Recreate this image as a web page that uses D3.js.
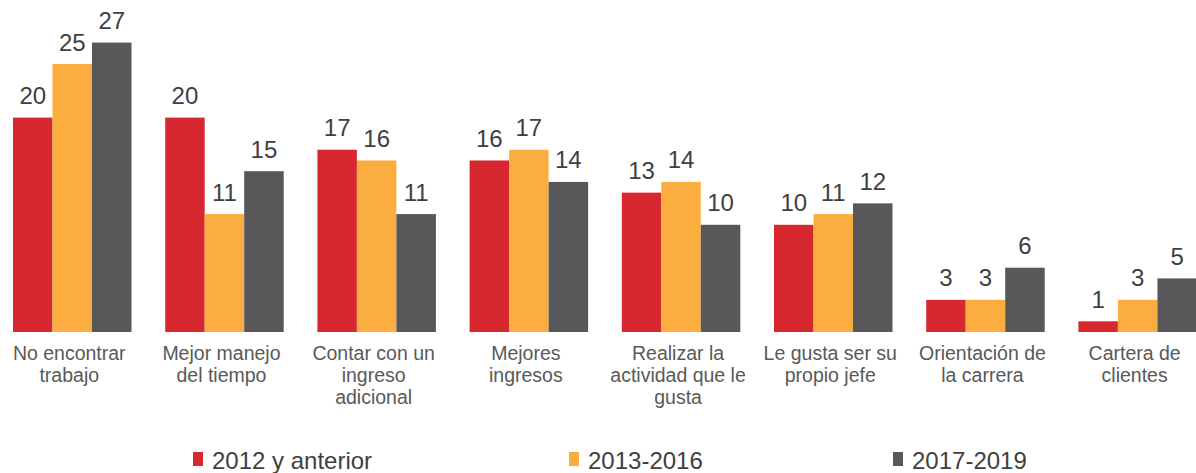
<!DOCTYPE html>
<html>
<head>
<meta charset="utf-8">
<script src="https://cdn.jsdelivr.net/npm/d3@7"></script>
<style>
  html, body { margin: 0; padding: 0; background: #ffffff; }
  svg { display: block; font-family: "Liberation Sans", Arial, Helvetica, sans-serif; }
</style>
</head>
<body>
<svg id="chart" width="1196" height="473"></svg>
<script>
// Motivos, por periodo de inicio
const categories = [
  ["No encontrar", "trabajo"],
  ["Mejor manejo", "del tiempo"],
  ["Contar con un", "ingreso", "adicional"],
  ["Mejores", "ingresos"],
  ["Realizar la", "actividad que le", "gusta"],
  ["Le gusta ser su", "propio jefe"],
  ["Orientación de", "la carrera"],
  ["Cartera de", "clientes"]
];
const seriesNames = ["2012 y anterior", "2013-2016", "2017-2019"];
const values2012 = [20, 20, 17, 16, 13, 10, 3, 1];
const values2013 = [25, 11, 16, 17, 14, 11, 3, 3];
const values2017 = [27, 15, 11, 14, 10, 12, 6, 5];
const colors = ["#d7282f", "#fbae3f", "#58585a"];

const seriesValues = [values2012, values2013, values2017];

const svg = d3.select("#chart");

const x0 = d3.scaleBand()
  .domain(d3.range(categories.length))
  .range([-3.85, 1213.75])
  .paddingInner(0.2214)
  .paddingOuter(0.1107);

const x1 = d3.scaleBand()
  .domain(d3.range(seriesNames.length))
  .range([0, x0.bandwidth()]);

const y = d3.scaleLinear()
  .domain([0, 30])
  .range([332, 10.4]);

const color = d3.scaleOrdinal().domain(d3.range(3)).range(colors);

// Bars and value labels
const groups = svg.append("g")
  .selectAll("g")
  .data(d3.range(categories.length))
  .join("g")
  .attr("transform", i => `translate(${x0(i)},0)`);

const cells = groups.selectAll("g")
  .data(i => seriesValues.map((vals, s) => ({ s, v: vals[i] })))
  .join("g");

cells.append("rect")
  .attr("x", d => x1(d.s))
  .attr("width", x1.bandwidth())
  .attr("y", d => y(d.v))
  .attr("height", d => y(0) - y(d.v))
  .attr("fill", d => color(d.s));

cells.append("text")
  .attr("x", d => x1(d.s) + x1.bandwidth() / 2)
  .attr("y", d => y(d.v) - 13.5)
  .attr("text-anchor", "middle")
  .attr("font-size", 24)
  .attr("fill", "#404040")
  .text(d => d.v);

// Category labels
const labels = svg.append("g")
  .selectAll("text")
  .data(categories)
  .join("text")
  .attr("x", (d, i) => x0(i) + x0.bandwidth() / 2 - 3)
  .attr("y", 360)
  .attr("text-anchor", "middle")
  .attr("font-size", 19.5)
  .attr("fill", "#595959");

labels.selectAll("tspan")
  .data(d => d)
  .join("tspan")
  .attr("x", function () { return d3.select(this.parentNode).attr("x"); })
  .attr("dy", (d, i) => i === 0 ? 0 : 22)
  .text(d => d);

// Legend
const legendX = [193, 569, 893];
const legend = svg.append("g")
  .selectAll("g")
  .data(seriesNames)
  .join("g")
  .attr("transform", (d, i) => `translate(${legendX[i]},0)`);

legend.append("rect")
  .attr("x", 0)
  .attr("y", 452)
  .attr("width", 10)
  .attr("height", 14)
  .attr("fill", (d, i) => color(i));

legend.append("text")
  .attr("x", 19)
  .attr("y", 469)
  .attr("font-size", 24)
  .attr("fill", "#404040")
  .text(d => d);
</script>
</body>
</html>
